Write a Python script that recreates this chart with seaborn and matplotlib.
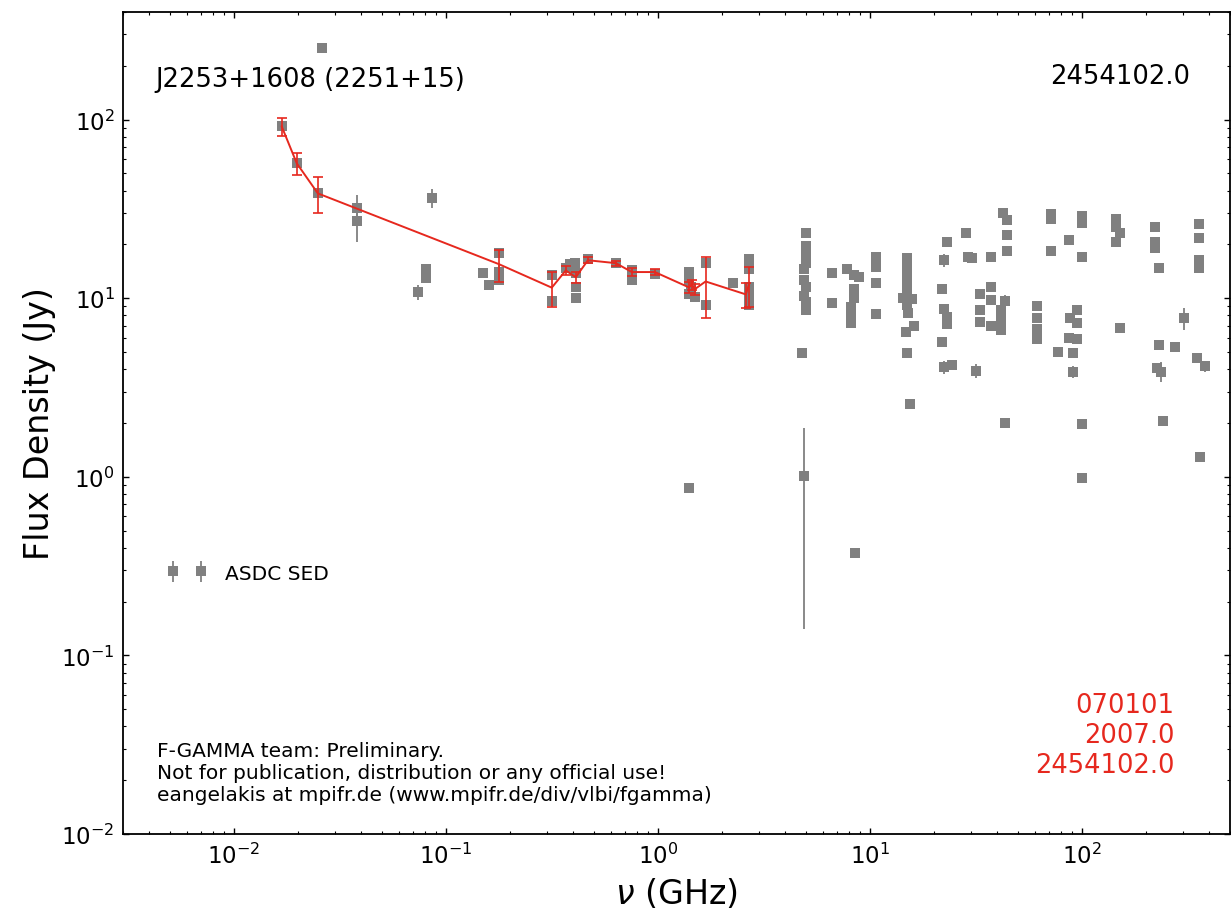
import matplotlib
matplotlib.use("Agg")
import matplotlib.pyplot as plt
import seaborn as sns
import pandas as pd

# ASDC SED archive points: frequency (GHz), flux density (Jy), error (Jy)
asdc_nu = [0.0168, 0.0198, 0.0249, 0.026, 0.038, 0.038, 0.0738, 0.0805, 0.0805, 0.0859,
           0.150, 0.160, 0.178, 0.178, 0.178,
           0.316, 0.316, 0.368, 0.385, 0.406, 0.410, 0.410, 0.410, 0.468,
           0.634, 0.754, 0.754, 0.968,
           1.40, 1.40, 1.43, 1.40, 1.49, 1.40, 1.68, 1.68, 2.26,
           2.69, 2.69, 2.69, 2.69, 2.69, 2.69,
           4.99, 4.99, 4.99, 4.99, 4.88, 4.88, 4.99, 4.88, 4.99, 4.99, 4.78, 4.88,
           6.62, 6.62,
           7.79, 8.41, 8.87, 8.41, 8.41, 8.13, 8.13, 8.13, 8.50,
           10.7, 10.7, 10.7, 10.7,
           15.0, 15.0, 15.0, 15.0, 15.0, 14.3, 15.8, 15.0, 15.1, 14.8, 16.1, 15.0, 15.4,
           23.1, 22.3, 21.9, 22.3, 23.1, 23.1, 21.9, 22.3, 24.4,
           28.4, 29.0, 30.3, 31.6, 33.0, 33.0, 33.0,
           37.2, 37.2, 37.2, 37.2, 41.5, 41.5, 41.5, 43.3, 42.4, 44.3, 44.3, 44.3, 43.3,
           61.4, 61.4, 61.4, 61.4,
           71.4, 71.4, 71.4, 77.1,
           86.9, 94.7, 94.7, 88.0, 94.7, 86.9, 90.7, 90.7, 100, 100, 100, 100, 100,
           145, 145, 151, 145, 151,
           221, 221, 221, 231, 231, 275, 226, 236, 241,
           303,
           356, 356, 356, 356, 349, 380, 360]
asdc_flux = [91.8, 56.9, 38.6, 251, 31.8, 26.9, 10.8, 14.5, 12.9, 36.3,
             13.9, 11.8, 18.0, 14.1, 12.7,
             13.4, 9.58, 14.7, 15.5, 15.8, 13.9, 11.5, 10.0, 16.5,
             15.7, 14.3, 12.7, 13.7,
             14.0, 12.7, 11.5, 10.5, 10.1, 0.87, 15.8, 9.2, 12.2,
             16.5, 14.5, 11.6, 10.5, 9.6, 9.1,
             23.3, 19.5, 17.6, 15.8, 14.5, 12.7, 11.5, 10.3, 9.5, 8.6, 4.96, 1.01,
             13.9, 9.34,
             14.5, 13.4, 13.2, 11.2, 10.0, 8.9, 8.1, 7.3, 0.375,
             16.9, 14.9, 12.1, 8.2,
             16.7, 14.7, 12.9, 11.6, 10.5, 10.0, 9.9, 9.2, 8.3, 6.5, 7.0, 4.96, 2.54,
             20.5, 16.3, 11.2, 8.75, 7.8, 7.2, 5.65, 4.1, 4.25,
             23.1, 16.9, 16.7, 3.93, 10.6, 8.6, 7.4,
             16.9, 11.5, 9.8, 7.0, 8.6, 7.5, 6.6, 9.6, 29.9, 27.3, 22.5, 18.3, 2.01,
             9.0, 7.7, 6.7, 5.9,
             29.5, 27.6, 18.3, 5.0,
             21.1, 8.6, 7.3, 7.7, 5.9, 5.95, 4.9, 3.88, 28.7, 26.5, 16.9, 1.98, 0.99,
             27.6, 24.9, 23.3, 20.5, 6.85,
             24.9, 20.5, 19.2, 14.7, 5.5, 5.36, 4.09, 3.88, 2.06,
             7.7,
             25.9, 21.6, 16.3, 14.7, 4.65, 4.15, 1.29]
asdc_err = [2.0, 2.0, 2.0, 0, 5.8, 6.4, 1.0, 0, 0, 4.5,
            0, 0, 0, 1.2, 0,
            0, 0, 0, 0, 0, 0, 0, 0, 0,
            0, 0, 0, 0,
            0, 0, 0, 0, 0, 0, 0, 0, 0,
            0, 0, 0, 0, 0, 0,
            0, 0, 0, 0, 0, 0, 0, 0, 0, 0, 0, 0.87,
            0, 0,
            0, 0, 0, 0, 0, 0, 0, 0, 0,
            0, 0, 0, 0,
            1.3, 0, 0, 0, 0, 0, 0, 0, 0, 0, 0, 0, 0,
            0, 1.3, 0, 0, 0, 0, 0, 0.35, 0,
            0, 0, 0, 0.35, 0, 0, 0,
            0, 0, 0, 0, 0, 0, 0, 0.8, 0, 0, 0, 0, 0,
            0, 0, 0, 0,
            0, 0, 0, 0.3,
            0, 0, 0, 0, 0, 0, 0.3, 0.3, 0, 0, 0, 0, 0,
            0, 0, 0, 0, 0,
            0, 0, 0, 0, 0, 0, 0, 0.5, 0,
            1.1,
            0, 0, 0, 0, 0, 0.3, 0]

# F-GAMMA spectrum (red)
fg_nu = [0.0168, 0.0198, 0.0249, 0.178, 0.316, 0.368, 0.41, 0.468, 0.634, 0.754,
         0.968, 1.40, 1.45, 1.49, 1.68, 2.60, 2.69]
fg_flux = [91.8, 56.9, 38.6, 15.5, 11.45, 14.3, 13.1, 16.3, 15.7, 14.0,
           14.0, 11.5, 11.9, 11.2, 12.4, 10.5, 11.9]
fg_err = [10.5, 7.7, 8.8, 3.2, 2.55, 0.9, 1.0, 0.6, 0.5, 0.7,
          0.5, 0.8, 0.8, 0.8, 4.7, 1.7, 3.0]

source_name = "J2253+1608 (2251+15)"
jd_label = "2454102.0"
date_lines = ["070101", "2007.0", "2454102.0"]
disclaimer = ["F-GAMMA team: Preliminary.",
              "Not for publication, distribution or any official use!",
              "eangelakis at mpifr.de (www.mpifr.de/div/vlbi/fgamma)"]

red = "#e6281e"
grey = "#808080"

sns.set_style("ticks", {"xtick.direction": "in", "ytick.direction": "in"})
plt.rcParams['font.family'] = ['DejaVu Sans']
plt.rcParams['text.color'] = 'black'
plt.rcParams['axes.labelcolor'] = 'black'

fig = plt.figure(figsize=(12.31, 9.12), dpi=100)
ax = fig.add_axes([123 / 1231, 1 - 835 / 912, 1107 / 1231, 822 / 912])
ax.set_xscale('log')
ax.set_yscale('log')

ax.errorbar(asdc_nu, asdc_flux, yerr=asdc_err, fmt='s', color=grey, ms=6.5,
            mec=grey, mew=0, elinewidth=1.3, capsize=0, label='ASDC SED', zorder=2)

df = pd.DataFrame({'nu': fg_nu, 'flux': fg_flux})
sns.lineplot(data=df, x='nu', y='flux', ax=ax, color=red, lw=1.4, sort=False,
             estimator=None, legend=False, zorder=3)
ax.errorbar(fg_nu, fg_flux, yerr=fg_err, fmt='none', ecolor=red, elinewidth=1.2,
            capsize=3.5, capthick=1.2, zorder=3)

ax.set_xlim(0.003, 500)
ax.set_ylim(0.01, 400)

ax.tick_params(which='both', direction='in', top=True, right=True, colors='black')
ax.tick_params(which='major', length=4.5, width=1, labelsize=16.5, pad=6)
ax.tick_params(which='minor', length=2.5, width=0.8)
for s in ax.spines.values():
    s.set_linewidth(1.3)
    s.set_color('black')

ax.set_xlabel(r"$\nu$ (GHz)", fontsize=24, labelpad=6)
ax.set_ylabel("Flux Density (Jy)", fontsize=24, labelpad=4)

ax.text(0.0289, 0.918, source_name, transform=ax.transAxes, fontsize=18.6,
        ha='left', va='center')
ax.text(0.964, 0.922, jd_label, transform=ax.transAxes, fontsize=18.6,
        ha='right', va='center')
ax.text(0.950, 0.1204, "\n".join(date_lines), transform=ax.transAxes, fontsize=18.5,
        color=red, ha='right', va='center', multialignment='right')
ax.text(0.0307, 0.0754, "\n".join(disclaimer), transform=ax.transAxes, fontsize=14.5,
        ha='left', va='center', linespacing=1.2)

handles, labels = ax.get_legend_handles_labels()
keep = [i for i, l in enumerate(labels) if l == 'ASDC SED']
ax.legend([handles[i] for i in keep], ['ASDC SED'], loc='center left',
          bbox_to_anchor=(0.0397, 0.3175), numpoints=2, frameon=False,
          fontsize=14.5, handlelength=2.0, handletextpad=0.9, borderpad=0,
          borderaxespad=0)

fig.savefig("out.png", dpi=100, facecolor='white')
